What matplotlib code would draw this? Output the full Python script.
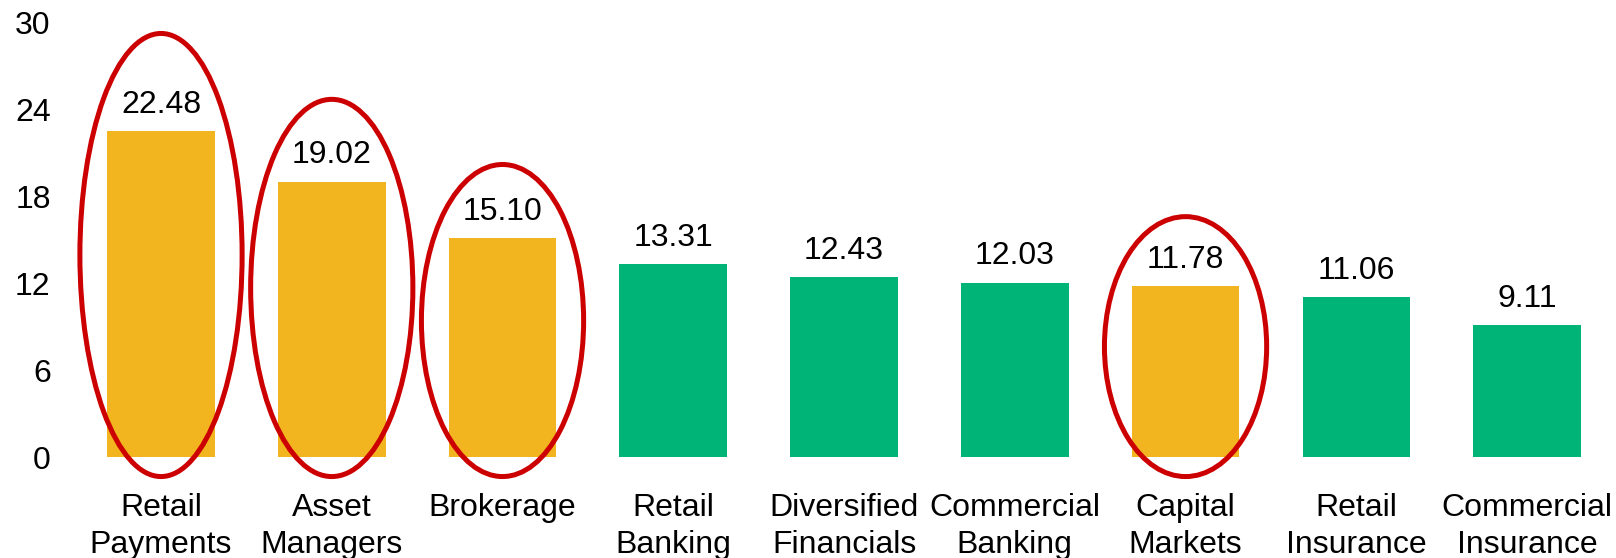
import numpy as np
import matplotlib
matplotlib.use("Agg")
import matplotlib.pyplot as plt
from matplotlib.patches import Ellipse

plt.rcParams['font.family'] = ['Liberation Sans', 'DejaVu Sans']

# Segment values
categories = ["Retail\nPayments", "Asset\nManagers", "Brokerage", "Retail\nBanking",
              "Diversified\nFinancials", "Commercial\nBanking", "Capital\nMarkets",
              "Retail\nInsurance", "Commercial\nInsurance"]
values = [22.48, 19.02, 15.10, 13.31, 12.43, 12.03, 11.78, 11.06, 9.11]
highlighted = [True, True, True, False, False, False, True, False, False]
y_ticks = [0, 6, 12, 18, 24, 30]

# circled bars: ellipse top edge in data units
ellipse_tops = {0: 29.25, 1: 24.7, 2: 20.2, 6: 16.6}
ellipse_bottom = -1.35

yellow = "#F3B51F"
green = "#00B377"
red = "#CC0000"
fs = 23

fig = plt.figure(figsize=(16.16, 5.58), dpi=100)
ax = fig.add_axes([0.0468, 0.181, 0.951, 0.7785])

x = np.arange(len(values))
colors = [yellow if h else green for h in highlighted]
bars = ax.bar(x, values, width=0.63, color=colors)

for xi, v in zip(x, values):
    ax.annotate(f"{v:.2f}", (xi, v), xytext=(0, 13.2), textcoords="offset points",
                ha="center", va="baseline", fontsize=fs)

for i, top in ellipse_tops.items():
    cy = (top + ellipse_bottom) / 2
    h = top - ellipse_bottom
    e = Ellipse((x[i], cy), width=0.95, height=h, fill=False, edgecolor=red,
                linewidth=3.6, clip_on=False, zorder=3)
    ax.add_patch(e)

ax.set_xlim(-0.5, 8.5)
ax.set_ylim(0, 30)
ax.set_yticks(y_ticks)
ax.set_xticks(x, categories)
for lbl in ax.get_xticklabels():
    lbl.set_linespacing(1.3)

ax.tick_params(axis='x', length=0, pad=26, labelsize=fs)
ax.tick_params(axis='y', length=0, pad=18, labelsize=fs)
for s in ax.spines.values():
    s.set_visible(False)

fig.savefig("out.png", dpi=100)
